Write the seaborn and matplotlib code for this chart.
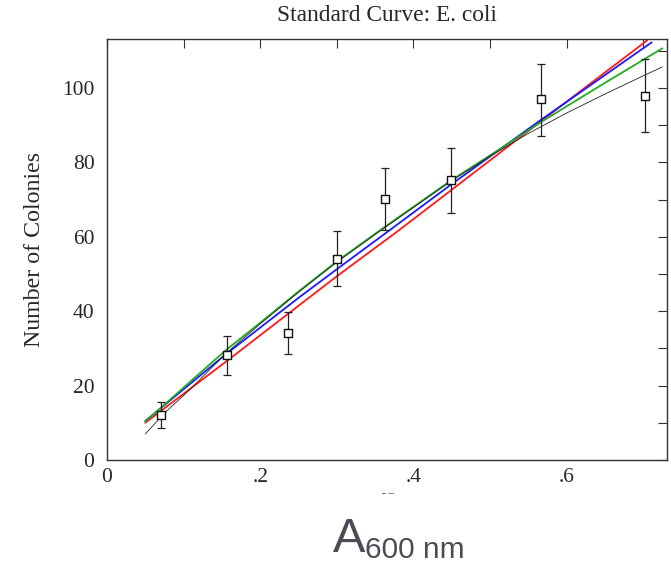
import numpy as np
import pandas as pd
import matplotlib
matplotlib.use("Agg")
import matplotlib.pyplot as plt
from matplotlib.ticker import FixedLocator, FuncFormatter
import seaborn as sns

# ---- data ----
absorbance = [0.070, 0.156, 0.236, 0.300, 0.363, 0.449, 0.567, 0.702]
colonies = [12.1, 28.2, 34.2, 54.0, 70.1, 75.2, 97.0, 97.9]
err_low = [8.6, 22.9, 28.4, 46.9, 61.8, 66.5, 87.2, 88.3]
err_high = [15.5, 33.4, 39.9, 61.6, 78.4, 83.9, 106.6, 107.8]

red_x = [0.05, 0.155, 0.30, 0.38, 0.566, 0.65, 0.705]
red_y = [10.0, 26.4, 49.4, 61.6, 91.0, 104.2, 112.8]

blue_x = [0.05, 0.155, 0.25, 0.30, 0.371, 0.45, 0.566, 0.65, 0.711]
blue_y = [10.5, 28.4, 43.6, 51.3, 62.1, 74.2, 91.4, 103.5, 112.3]

green_x = [0.05, 0.105, 0.155, 0.20, 0.25, 0.30, 0.36, 0.45, 0.50, 0.566, 0.65, 0.70, 0.725]
green_y = [10.3, 20.4, 29.5, 36.9, 45.3, 53.4, 62.3, 75.3, 81.9, 90.8, 101.4, 107.6, 110.7]

black_x = [0.05, 0.075, 0.108, 0.155, 0.20, 0.25, 0.30, 0.36, 0.45, 0.50, 0.55, 0.60, 0.65, 0.70, 0.725]
black_y = [7.0, 12.6, 18.9, 28.6, 36.6, 45.1, 53.2, 62.1, 75.1, 81.7, 87.8, 93.3, 98.4, 103.3, 105.7]

title = "Standard Curve: E. coli"
ylabel = "Number of Colonies"
xticks = [0.0, 0.1, 0.2, 0.3, 0.4, 0.5, 0.6, 0.7]
yticks = [0, 10, 20, 30, 40, 50, 60, 70, 80, 90, 100, 110]

# ---- figure ----
sns.set_style("white")
plt.rcParams["font.family"] = ["Liberation Serif", "DejaVu Serif"]

fig = plt.figure(figsize=(6.71, 5.65), dpi=100)
ax = fig.add_axes([107 / 671, 1 - 460 / 565, 560 / 671, 421 / 565])

curves = [
    (red_x, red_y, "#ff1a1a", 1.3),
    (blue_x, blue_y, "#1a1aff", 1.3),
    (green_x, green_y, "#22aa22", 1.3),
    (black_x, black_y, "#222222", 0.6),
]
for cx, cy, col, lw in curves:
    sns.lineplot(x=cx, y=cy, color=col, linewidth=lw, ax=ax, sort=False,
                 estimator=None, legend=False)

yerr = np.array([np.array(colonies) - np.array(err_low),
                 np.array(err_high) - np.array(colonies)])
ax.errorbar(absorbance, colonies, yerr=yerr, fmt="none", ecolor="#222222",
            elinewidth=0.9, capsize=3, capthick=0.9, zorder=4)
df = pd.DataFrame({"A600": absorbance, "Colonies": colonies})
sns.scatterplot(data=df, x="A600", y="Colonies", marker="s", s=30,
                facecolor="white", edgecolor="#111111", linewidth=1.0,
                ax=ax, zorder=5, legend=False)

ax.set_xlim(0, 0.731)
ax.set_ylim(0, 113.2)
ax.xaxis.set_major_locator(FixedLocator(xticks))
ax.yaxis.set_major_locator(FixedLocator(yticks))


def xfmt(v, pos):
    if abs(v) < 1e-9:
        return "0"
    k = int(round(v * 10))
    return f".{k}" if k % 2 == 0 else ""


def yfmt(v, pos):
    k = int(round(v))
    return str(k) if k % 20 == 0 else ""


ax.xaxis.set_major_formatter(FuncFormatter(xfmt))
ax.yaxis.set_major_formatter(FuncFormatter(yfmt))
ax.tick_params(axis="both", direction="in", length=6.5, width=0.8,
               color="#333333", labelsize=15.5, top=True, right=True)
ax.tick_params(axis="x", pad=6)
ax.tick_params(axis="y", pad=9)
for sp in ax.spines.values():
    sp.set_color("#333333")
    sp.set_linewidth(1.0)

ax.set_xlabel("")
ax.set_ylabel(ylabel, fontsize=17.2, labelpad=12)
ax.set_title(title, fontsize=16.8, pad=13)

# x-axis label (drawn in a sans face, grey)
fig.text(333 / 671, 1 - 552 / 565, "A", fontsize=35, color="#4b4b55",
         family=["Liberation Sans", "DejaVu Sans"], va="baseline", ha="left")
fig.text(365 / 671, 1 - 558.5 / 565, "600 nm", fontsize=21.5, color="#4b4b55",
         family=["Liberation Sans", "DejaVu Sans"], va="baseline", ha="left")
fig.text(388 / 671, 1 - 494 / 565, "- \u2013", fontsize=8, color="#222222",
         ha="center", va="center")

fig.savefig("out.png", dpi=100)
